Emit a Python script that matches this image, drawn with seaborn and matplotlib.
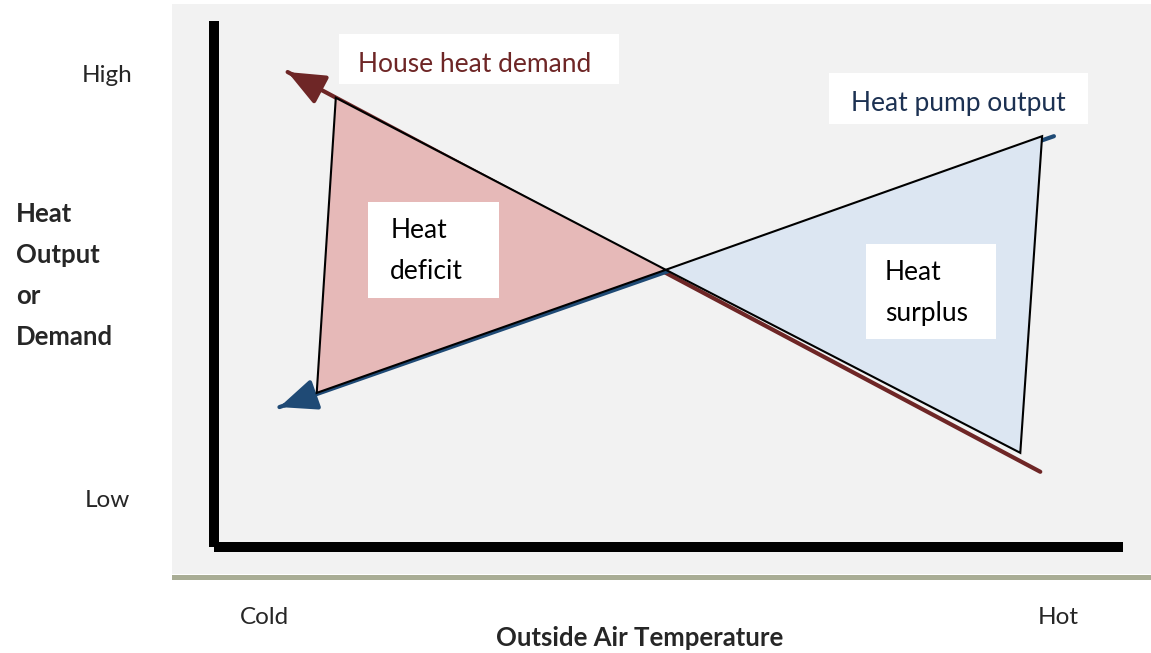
import matplotlib
matplotlib.use("Agg")
import matplotlib.pyplot as plt
from matplotlib.patches import Rectangle
import seaborn as sns

# values (0-100 scale on both axes)
temp_demand = [8.1, 90.9]
house_demand = [90.3, 14.3]
temp_pump = [7.2, 92.4]
pump_output = [26.6, 78.1]

deficit_temp = [13.4, 11.3, 49.7]
deficit_heat = [85.4, 29.3, 52.7]
surplus_temp = [49.7, 91.1, 88.7]
surplus_heat = [52.7, 78.1, 17.9]

x_ticks = [5.5, 92.85]
x_ticklabels = ["Cold", "Hot"]
y_ticks = [9.3, 90.1]
y_ticklabels = ["Low", "High"]

sns.set_theme(style="white")
plt.rcParams["font.family"] = ["Lato", "DejaVu Sans"]

demand_col = "#6e2626"
pump_col = "#1f4a75"

fig = plt.figure(figsize=(11.51, 6.53), dpi=100)
fig.patch.set_facecolor("white")

# grey panel and the line under it
fig.patches.append(Rectangle((172 / 1151, 1 - 574 / 653), 1 - 172 / 1151, 570 / 653,
                             transform=fig.transFigure, facecolor="#f2f2f2",
                             edgecolor="none", zorder=-2))
fig.patches.append(Rectangle((172 / 1151, 1 - 580 / 653), 1 - 172 / 1151, 5 / 653,
                             transform=fig.transFigure, facecolor="#a9ad95",
                             edgecolor="none", zorder=-2))

ax = fig.add_axes([214 / 1151, 1 - 547 / 653, 909 / 1151, 526 / 653])
ax.set_facecolor("none")
ax.set_xlim(0, 100)
ax.set_ylim(0, 100)

# the two lines with arrow heads
sns.lineplot(x=temp_demand, y=house_demand, color=demand_col, lw=3, ax=ax, zorder=2)
sns.lineplot(x=temp_pump, y=pump_output, color=pump_col, lw=3, ax=ax, zorder=2)
head = "-|>,head_length=0.95,head_width=0.4"
ax.annotate("", xy=(temp_demand[0], house_demand[0]),
            xytext=(temp_demand[0] + 3, house_demand[0] - 3 * 0.918),
            arrowprops=dict(arrowstyle=head, color=demand_col, lw=3,
                            shrinkA=0, shrinkB=0, mutation_scale=24), zorder=2)
ax.annotate("", xy=(temp_pump[0], pump_output[0]),
            xytext=(temp_pump[0] + 3, pump_output[0] + 3 * 0.6045),
            arrowprops=dict(arrowstyle=head, color=pump_col, lw=3,
                            shrinkA=0, shrinkB=0, mutation_scale=24), zorder=2)

# deficit / surplus triangles
ax.fill(deficit_temp, deficit_heat, facecolor="#e6b9b8", edgecolor="black", lw=1.5, zorder=3)
ax.fill(surplus_temp, surplus_heat, facecolor="#dce6f2", edgecolor="black", lw=1.5, zorder=3)

# white label boxes
boxes = [(13.8, 88.0, 30.8, 9.5), (67.7, 80.4, 28.4, 9.7),
         (16.9, 47.3, 14.5, 18.3), (71.7, 39.5, 14.3, 18.1)]
for bx, by, bw, bh in boxes:
    ax.add_patch(Rectangle((bx, by), bw, bh, facecolor="white", edgecolor="none", zorder=4))

ax.text(28.7, 91.8, "House heat demand", color=demand_col, fontsize=19,
        ha="center", va="center", zorder=5)
ax.text(81.85, 84.4, "Heat pump output", color="#1c3152", fontsize=19,
        ha="center", va="center", zorder=5)
ax.text(19.4, 56.3, "Heat\ndeficit", color="black", fontsize=19,
        ha="left", va="center", linespacing=1.8, zorder=5)
ax.text(73.8, 48.3, "Heat\nsurplus", color="black", fontsize=19,
        ha="left", va="center", linespacing=1.8, zorder=5)

# thick black axes
for s in ["top", "right"]:
    ax.spines[s].set_visible(False)
for s in ["left", "bottom"]:
    ax.spines[s].set_color("black")
    ax.spines[s].set_linewidth(7.2)
    ax.spines[s].set_capstyle("butt")

ax.set_xticks(x_ticks)
ax.set_xticklabels(x_ticklabels, fontsize=17.5)
ax.set_yticks(y_ticks)
ax.set_yticklabels(y_ticklabels, fontsize=17.5, ha="center")
ax.tick_params(axis="x", length=0, pad=43)
ax.tick_params(axis="y", length=0, pad=77)

ax.set_xlabel("Outside Air Temperature", fontsize=18.5, fontweight="bold")
ax.xaxis.set_label_coords(0.4686, -0.173)
ax.xaxis.label.set_va("center")
ax.set_ylabel("Heat\nOutput\nor\nDemand", fontsize=18.5, fontweight="bold",
              rotation=0, ha="left", va="center", linespacing=1.85)
ax.yaxis.set_label_coords(-0.2178, 0.517)

fig.savefig("out.png", dpi=100)
